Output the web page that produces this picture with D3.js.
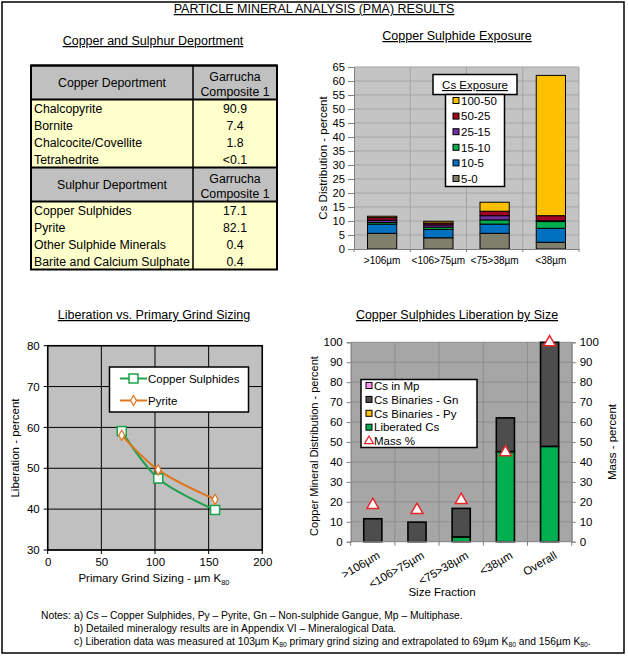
<!DOCTYPE html>
<html><head><meta charset="utf-8">
<script src="https://cdn.jsdelivr.net/npm/d3@7"></script>
<style>
body{margin:0;background:#fff}
svg{display:block}
text{font-family:"Liberation Sans",Arial,Helvetica,sans-serif;fill:#000}
</style>
</head><body>
<svg id="c" width="628" height="657"></svg>
<script>
// ---------- DATA ----------
const mainTitle = "PARTICLE MINERAL ANALYSIS (PMA) RESULTS";
const copperMinerals = ["Chalcopyrite","Bornite","Chalcocite/Covellite","Tetrahedrite"];
const copperValues = ["90.9","7.4","1.8","<0.1"];
const sulphurMinerals = ["Copper Sulphides","Pyrite","Other Sulphide Minerals","Barite and Calcium Sulphate"];
const sulphurValues = ["17.1","82.1","0.4","0.4"];

const exposureFractions = [">106µm","<106>75µm","<75>38µm","<38µm"];
const exposureClasses = ["5-0","10-5","15-10","25-15","50-25","100-50"];
const exp5_0   = [5.6, 4.0, 5.6, 2.4];
const exp10_5  = [3.3, 3.0, 3.3, 5.0];
const exp15_10 = [0.6, 0.8, 1.5, 2.4];
const exp25_15 = [0.8, 0.8, 1.5, 0.3];
const exp50_25 = [0.9, 0.7, 1.6, 1.8];
const exp100_50= [0.5, 0.6, 3.2, 50.1];
const exposureTicks = [0,5,10,15,20,25,30,35,40,45,50,55,60,65];

const grindSizes = [69, 103, 156];
const copperLiberation = [59.1, 47.5, 39.8];
const pyriteLiberation = [58.1, 49.6, 42.4];
const grindXTicks = [0,50,100,150,200];
const grindYTicks = [30,40,50,60,70,80];

const sizeFractions = [">106µm","<106>75µm","<75>38µm","<38µm","Overall"];
const liberatedCs = [0, 0, 2.4, 45.2, 47.8];
const binariesPy  = [0, 0, 0, 0, 0];
const binariesGn  = [11.5, 9.8, 14.3, 16.9, 52.2];
const csInMp      = [0, 0, 0, 0, 0];
const massPct     = [18.4, 15.9, 20.9, 44.8, 100];
const libTicks = [0,10,20,30,40,50,60,70,80,90,100];

const notesLines = [
 "a) Cs – Copper Sulphides, Py – Pyrite, Gn – Non-sulphide Gangue, Mp – Multiphase.",
 "b) Detailed mineralogy results are in Appendix VI – Mineralogical Data."
];

// ---------- SETUP ----------
const svg = d3.select("#c");
const FONT = '"Liberation Sans",Arial,sans-serif';
svg.append("rect").attr("x",2).attr("y",2).attr("width",622).attr("height",651)
  .attr("fill","#fff").attr("stroke","#000").attr("stroke-width",1.5);

function title(x,y,t,size){
  svg.append("text").attr("x",x).attr("y",y).attr("text-anchor","middle")
    .attr("font-size",size||12.5).style("text-decoration","underline").text(t);
}
title(314,13,mainTitle,12.5);
title(153,45,"Copper and Sulphur Deportment");
title(457,40,"Copper Sulphide Exposure");
title(154,319,"Liberation vs. Primary Grind Sizing");
title(457,319,"Copper Sulphides Liberation by Size");

// ---------- TABLE ----------
(function(){
  const x0=31,x1=277,xs=193,headH=34,rowH=17;
  const g=svg.append("g");
  let y=65.5;
  const blocks=[["Copper Deportment",copperMinerals,copperValues],["Sulphur Deportment",sulphurMinerals,sulphurValues]];
  const hLines=[];
  blocks.forEach(b=>{
    g.append("rect").attr("x",x0).attr("y",y).attr("width",x1-x0).attr("height",headH).attr("fill","#C0C0C0");
    g.append("text").attr("x",(x0+xs)/2).attr("y",y+headH/2+4.3).attr("text-anchor","middle").attr("font-size",12.3).text(b[0]);
    g.append("text").attr("x",(xs+x1)/2).attr("y",y+15).attr("text-anchor","middle").attr("font-size",12.3).text("Garrucha");
    g.append("text").attr("x",(xs+x1)/2).attr("y",y+30).attr("text-anchor","middle").attr("font-size",12.3).text("Composite 1");
    hLines.push(y); y+=headH; hLines.push(y);
    g.append("rect").attr("x",x0).attr("y",y).attr("width",x1-x0).attr("height",rowH*b[1].length).attr("fill","#FFFFCC");
    b[1].forEach((m,i)=>{
      g.append("text").attr("x",x0+3).attr("y",y+rowH*i+13).attr("font-size",12.3).text(m);
      g.append("text").attr("x",(xs+x1)/2).attr("y",y+rowH*i+13).attr("text-anchor","middle").attr("font-size",12.3).text(b[2][i]);
    });
    y+=rowH*b[1].length;
  });
  hLines.forEach(h=>g.append("line").attr("x1",x0).attr("x2",x1).attr("y1",h).attr("y2",h).attr("stroke","#000").attr("stroke-width",2));
  g.append("line").attr("x1",xs).attr("x2",xs).attr("y1",65.5).attr("y2",y).attr("stroke","#000").attr("stroke-width",1.5);
  g.append("rect").attr("x",x0).attr("y",65.5).attr("width",x1-x0).attr("height",y-65.5).attr("fill","none").attr("stroke","#000").attr("stroke-width",2);
})();

// ---------- COPPER SULPHIDE EXPOSURE ----------
(function(){
  const L=354,R=579,T=67,B=249;
  const x=d3.scaleBand().domain(exposureFractions).range([L,R]).padding(0);
  const y=d3.scaleLinear().domain([0,65]).range([B,T]);
  const g=svg.append("g");
  g.append("rect").attr("x",L).attr("y",T).attr("width",R-L).attr("height",B-T).attr("fill","#C4C4C4");
  exposureTicks.slice(1).forEach(t=>g.append("line").attr("x1",L).attr("x2",R).attr("y1",y(t)).attr("y2",y(t)).attr("stroke","#A4A4A4"));
  const bounds=exposureFractions.slice(1).map(d=>x(d)).concat([R]);
  bounds.forEach(b=>g.append("line").attr("x1",b).attr("x2",b).attr("y1",T).attr("y2",B).attr("stroke","#A4A4A4"));
  const series=[exp5_0,exp10_5,exp15_10,exp25_15,exp50_25,exp100_50];
  const colors={"5-0":"#7F7F6B","10-5":"#0070C0","15-10":"#00B050","25-15":"#7030A0","50-25":"#A50021","100-50":"#FFC000"};
  const rows=exposureFractions.map((f,i)=>{const o={f};exposureClasses.forEach((c,k)=>o[c]=series[k][i]);return o;});
  const stack=d3.stack().keys(exposureClasses)(rows);
  const bw=x.bandwidth()*0.52;
  stack.forEach(s=>{
    g.selectAll(null).data(s).enter().append("rect")
      .attr("x",d=>x(d.data.f)+(x.bandwidth()-bw)/2).attr("width",bw)
      .attr("y",d=>y(d[1])).attr("height",d=>y(d[0])-y(d[1]))
      .attr("fill",colors[s.key]).attr("stroke","#000").attr("stroke-width",1);
  });
  const ya=g.append("g").attr("transform",`translate(${L},0)`).call(d3.axisLeft(y).tickValues(exposureTicks).tickSize(6).tickPadding(3));
  ya.select(".domain").attr("stroke","#808080");
  ya.selectAll(".tick line").attr("stroke","#808080");
  ya.selectAll("text").attr("font-size",11.2).attr("font-family",FONT);
  const xa=g.append("g").attr("transform",`translate(0,${B})`).call(d3.axisBottom(x).tickSize(0).tickPadding(8));
  xa.select(".domain").attr("stroke","#808080");
  xa.selectAll("text").attr("font-size",10).attr("font-family",FONT);
  [L].concat(bounds).forEach(b=>g.append("line").attr("x1",b).attr("x2",b).attr("y1",B).attr("y2",B+3).attr("stroke","#808080"));
  g.append("text").attr("transform",`translate(327,158) rotate(-90)`).attr("text-anchor","middle").attr("font-size",11.5).text("Cs Distribution - percent");
  // legend
  g.append("rect").attr("x",433).attr("y",74.5).attr("width",84).attr("height",20).attr("fill","#fff").attr("stroke","#000").attr("stroke-width",1.5);
  g.append("text").attr("x",475).attr("y",89).attr("text-anchor","middle").attr("font-size",11.5).style("text-decoration","underline").text("Cs Exposure");
  g.append("rect").attr("x",445.5).attr("y",94.5).attr("width",59).attr("height",92).attr("fill","#fff").attr("stroke","#000").attr("stroke-width",1.5);
  exposureClasses.slice().reverse().forEach((c,i)=>{
    const yy=100.5+i*15.6;
    g.append("rect").attr("x",453).attr("y",yy-3).attr("width",6).attr("height",6).attr("fill",colors[c]).attr("stroke","#000").attr("stroke-width",1);
    g.append("text").attr("x",461).attr("y",yy+4.3).attr("font-size",11.5).text(c);
  });
})();

// ---------- LIBERATION VS GRIND ----------
(function(){
  const L=47.7,R=262.3,T=345.7,B=550;
  const x=d3.scaleLinear().domain([0,200]).range([L,R]);
  const y=d3.scaleLinear().domain([30,80]).range([B,T]);
  const g=svg.append("g");
  g.append("rect").attr("x",L).attr("y",T).attr("width",R-L).attr("height",B-T).attr("fill","#C0C0C0");
  grindYTicks.forEach(t=>g.append("line").attr("x1",L-4).attr("x2",R).attr("y1",y(t)).attr("y2",y(t)).attr("stroke","#000").attr("stroke-width",1));
  grindXTicks.forEach(t=>g.append("line").attr("x1",x(t)).attr("x2",x(t)).attr("y1",T).attr("y2",B+4).attr("stroke","#000").attr("stroke-width",1));
  g.append("rect").attr("x",L).attr("y",T).attr("width",R-L).attr("height",B-T).attr("fill","none").attr("stroke","#000").attr("stroke-width",1.5);
  const ya=g.append("g").attr("transform",`translate(${L},0)`).call(d3.axisLeft(y).tickValues(grindYTicks).tickSize(0).tickPadding(8));
  ya.select(".domain").remove();
  ya.selectAll("text").attr("font-size",11.5).attr("font-family",FONT);
  const xa=g.append("g").attr("transform",`translate(0,${B})`).call(d3.axisBottom(x).tickValues(grindXTicks).tickSize(0).tickPadding(8));
  xa.select(".domain").remove();
  xa.selectAll("text").attr("font-size",11.5).attr("font-family",FONT);
  const line=d3.line().x(d=>x(d[0])).y(d=>y(d[1])).curve(d3.curveCatmullRom.alpha(0.5));
  const cu=grindSizes.map((s,i)=>[s,copperLiberation[i]]);
  const py=grindSizes.map((s,i)=>[s,pyriteLiberation[i]]);
  const green="#1BA24A", orange="#E0761C";
  g.append("path").attr("d",line(cu)).attr("fill","none").attr("stroke",green).attr("stroke-width",2);
  g.append("path").attr("d",line(py)).attr("fill","none").attr("stroke",orange).attr("stroke-width",2);
  cu.forEach(d=>g.append("rect").attr("x",x(d[0])-4.5).attr("y",y(d[1])-4.5).attr("width",9).attr("height",9).attr("fill","#fff").attr("stroke",green).attr("stroke-width",1.5));
  const dia=d3.symbol().type(d3.symbolDiamond).size(30);
  py.forEach(d=>g.append("path").attr("d",dia()).attr("transform",`translate(${x(d[0])},${y(d[1])})`).attr("fill","#fff").attr("stroke",orange).attr("stroke-width",1.2));
  g.append("text").attr("transform",`translate(19,448) rotate(-90)`).attr("text-anchor","middle").attr("font-size",11.5).text("Liberation - percent");
  const xt=g.append("text").attr("x",154).attr("y",582).attr("text-anchor","middle").attr("font-size",11.5);
  xt.append("tspan").text("Primary Grind Sizing - µm K");
  xt.append("tspan").attr("font-size",7.5).attr("dy",3).text("80");
  // legend
  g.append("rect").attr("x",109.5).attr("y",367).attr("width",139).attr("height",45).attr("fill","#fff").attr("stroke","#000").attr("stroke-width",1.5);
  g.append("line").attr("x1",120).attr("x2",147).attr("y1",378.5).attr("y2",378.5).attr("stroke",green).attr("stroke-width",2);
  g.append("rect").attr("x",129).attr("y",374).attr("width",9).attr("height",9).attr("fill","#fff").attr("stroke",green).attr("stroke-width",1.5);
  g.append("text").attr("x",148).attr("y",382.5).attr("font-size",11.5).text("Copper Sulphides");
  g.append("line").attr("x1",120).attr("x2",147).attr("y1",400.5).attr("y2",400.5).attr("stroke",orange).attr("stroke-width",2);
  g.append("path").attr("d",dia()).attr("transform","translate(133.5,400.5)").attr("fill","#fff").attr("stroke",orange).attr("stroke-width",1.2);
  g.append("text").attr("x",148).attr("y",404.5).attr("font-size",11.5).text("Pyrite");
})();

// ---------- LIBERATION BY SIZE ----------
(function(){
  const L=350.7,R=571.7,T=342.3,B=541.7;
  const x=d3.scaleBand().domain(sizeFractions).range([L,R]).padding(0);
  const y=d3.scaleLinear().domain([0,100]).range([B,T]);
  const g=svg.append("g");
  g.append("rect").attr("x",L).attr("y",T).attr("width",R-L).attr("height",B-T).attr("fill","#A6A6A6");
  libTicks.slice(1).forEach(t=>g.append("line").attr("x1",L).attr("x2",R).attr("y1",y(t)).attr("y2",y(t)).attr("stroke","#8E8E8E"));
  const bounds=sizeFractions.slice(1).map(d=>x(d)).concat([R]);
  bounds.forEach(b=>g.append("line").attr("x1",b).attr("x2",b).attr("y1",T).attr("y2",B).attr("stroke","#8E8E8E"));
  const keys=["Liberated Cs","Cs Binaries - Py","Cs Binaries - Gn","Cs in Mp"];
  const vals=[liberatedCs,binariesPy,binariesGn,csInMp];
  const colors={"Cs in Mp":"#FF99FF","Cs Binaries - Gn":"#4D4D4D","Cs Binaries - Py":"#FFC000","Liberated Cs":"#00B050"};
  const rows=sizeFractions.map((f,i)=>{const o={f};keys.forEach((k,j)=>o[k]=vals[j][i]);return o;});
  const stack=d3.stack().keys(keys)(rows);
  const bw=x.bandwidth()*0.41;
  stack.forEach(s=>{
    g.selectAll(null).data(s.filter(d=>d[1]-d[0]>0)).enter().append("rect")
      .attr("x",d=>x(d.data.f)+(x.bandwidth()-bw)/2).attr("width",bw)
      .attr("y",d=>y(d[1])).attr("height",d=>y(d[0])-y(d[1]))
      .attr("fill",colors[s.key]).attr("stroke","#000").attr("stroke-width",1.6);
  });
  const tri=d3.symbol().type(d3.symbolTriangle).size(60);
  massPct.forEach((m,i)=>g.append("path").attr("d",tri()).attr("transform",`translate(${x(sizeFractions[i])+x.bandwidth()/2},${y(m)})`)
     .attr("fill","#fff").attr("stroke","#E8262A").attr("stroke-width",1.5));
  const ya=g.append("g").attr("transform",`translate(${L},0)`).call(d3.axisLeft(y).tickValues(libTicks).tickSize(4).tickPadding(4));
  ya.select(".domain").attr("stroke","#808080");
  ya.selectAll(".tick line").attr("stroke","#808080");
  ya.selectAll("text").attr("font-size",11.5).attr("font-family",FONT);
  const yr=g.append("g").attr("transform",`translate(${R},0)`).call(d3.axisRight(y).tickValues(libTicks).tickSize(4).tickPadding(4));
  yr.select(".domain").attr("stroke","#808080");
  yr.selectAll(".tick line").attr("stroke","#808080");
  yr.selectAll("text").attr("font-size",11.5).attr("font-family",FONT);
  g.append("line").attr("x1",L).attr("x2",R).attr("y1",B).attr("y2",B).attr("stroke","#808080");
  [L].concat(bounds).forEach(b=>g.append("line").attr("x1",b).attr("x2",b).attr("y1",B).attr("y2",B+4).attr("stroke","#808080"));
  sizeFractions.forEach(f=>{
    const cx=x(f)+x.bandwidth()/2;
    g.append("text").attr("transform",`translate(${cx+4},${B+9}) rotate(-30)`).attr("text-anchor","end")
      .attr("dy","0.7em").attr("font-size",11.5).text(f);
  });
  g.append("text").attr("x",442).attr("y",596).attr("text-anchor","middle").attr("font-size",11.5).text("Size Fraction");
  g.append("text").attr("transform",`translate(318,446) rotate(-90)`).attr("text-anchor","middle").attr("font-size",11).text("Copper Mineral Distribution - percent");
  g.append("text").attr("transform",`translate(616,442) rotate(-90)`).attr("text-anchor","middle").attr("font-size",11.5).text("Mass - percent");
  // legend
  g.append("rect").attr("x",361).attr("y",379.5).attr("width",116).attr("height",68).attr("fill","#fff").attr("stroke","#000").attr("stroke-width",1.5);
  const lk=["Cs in Mp","Cs Binaries - Gn","Cs Binaries - Py","Liberated Cs"];
  lk.forEach((k,i)=>{
    const yy=385.5+i*13.9;
    g.append("rect").attr("x",366).attr("y",yy-3).attr("width",6).attr("height",6).attr("fill",colors[k]).attr("stroke","#000").attr("stroke-width",1);
    g.append("text").attr("x",374).attr("y",yy+4.2).attr("font-size",11.5).text(k);
  });
  const yy=385.5+4*13.9;
  g.append("path").attr("d",d3.symbol().type(d3.symbolTriangle).size(34)()).attr("transform",`translate(369,${yy})`).attr("fill","#fff").attr("stroke","#E8262A").attr("stroke-width",1.3);
  g.append("text").attr("x",374).attr("y",yy+4.2).attr("font-size",11.5).text("Mass %");
})();

// ---------- NOTES ----------
(function(){
  const fs=10.3, nx=74;
  svg.append("text").attr("x",41).attr("y",619).attr("font-size",fs).text("Notes:");
  notesLines.forEach((t,i)=>svg.append("text").attr("x",nx).attr("y",619+i*13).attr("font-size",fs).text(t));
  const c=svg.append("text").attr("x",nx).attr("y",645).attr("font-size",fs);
  const parts=[["c) Liberation data was measured at 103µm K",0],["80",1],[" primary grind sizing and extrapolated to 69µm K",0],["80",1],[" and 156µm K",0],["80",1],[".",0]];
  parts.forEach((p,i)=>{
    const prev=i>0?parts[i-1][1]:0;
    const ts=c.append("tspan").text(p[0]);
    if(p[1]) ts.attr("font-size",6.8);
    ts.attr("dy", p[1]&&!prev?2:(!p[1]&&prev?-2:0));
  });
})();
</script>
</body></html>
